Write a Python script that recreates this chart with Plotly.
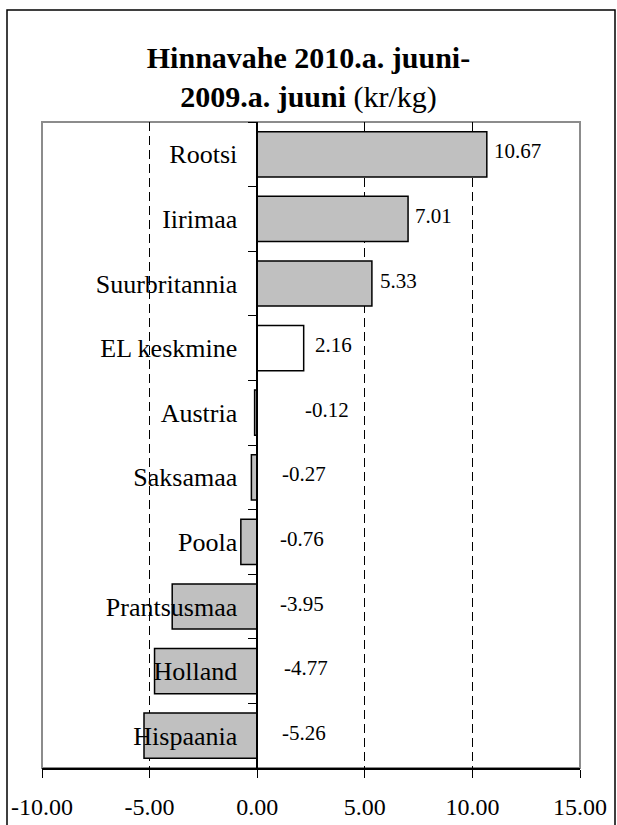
import plotly.graph_objects as go

# countries from top to bottom, price change (kr/kg)
countries = ["Rootsi", "Iirimaa", "Suurbritannia", "EL keskmine", "Austria",
             "Saksamaa", "Poola", "Prantsusmaa", "Holland", "Hispaania"]
values = [10.67, 7.01, 5.33, 2.16, -0.12, -0.27, -0.76, -3.95, -4.77, -5.26]
bar_colors = ["#c0c0c0", "#c0c0c0", "#c0c0c0", "#ffffff", "#c0c0c0",
              "#c0c0c0", "#c0c0c0", "#c0c0c0", "#c0c0c0", "#c0c0c0"]

x_ticks = [-10, -5, 0, 5, 10, 15]
x_tick_labels = ["-10.00", "-5.00", "0.00", "5.00", "10.00", "15.00"]
x_min, x_max = -10, 15

# pixel nudges for the value labels (Excel put them a bit irregularly)
label_shift = [5, 5, 6, 9, 46, 23, 21, 21, 25, 23]

FONT = "Liberation Serif"

fig = go.Figure()
fig.add_trace(go.Bar(
    x=values,
    y=countries,
    orientation="h",
    width=0.7,
    marker=dict(color=bar_colors, line=dict(color="black", width=1.5)),
    hoverinfo="x+y",
))

# value labels: right of the bar end for positives, right of zero for negatives
for c, v, s in zip(countries, values, label_shift):
    fig.add_annotation(
        x=v if v > 0 else 0, y=c, text=f"{v:.2f}",
        xanchor="left", yanchor="middle", xshift=s, yshift=3,
        showarrow=False, font=dict(family=FONT, size=21, color="black"),
    )

# gray plot border, over the edge gridlines
fig.add_shape(type="rect", xref="paper", yref="paper", x0=0, x1=1, y0=0, y1=1,
              line=dict(color="#8c8c8c", width=2), layer="between")
# black outer frame of the chart
fig.add_shape(type="rect", xref="paper", yref="paper",
              x0=-35 / 538, x1=573 / 538, y0=-62 / 646, y1=758 / 646,
              line=dict(color="black", width=1.5))

fig.update_xaxes(
    range=[x_min, x_max], automargin=False,
    tickmode="array", tickvals=x_ticks, ticktext=x_tick_labels,
    ticks="outside", ticklen=8, tickcolor="black", tickwidth=1,
    showline=True, linecolor="black", linewidth=1.5,
    showgrid=True, gridcolor="black", gridwidth=1, griddash="9px,5px",
    zeroline=False,
    tickfont=dict(family=FONT, size=24, color="black"),
    ticklabelstandoff=8,
)

fig.update_yaxes(
    type="category", autorange="reversed", automargin=False,
    anchor="free", position=(0 - x_min) / (x_max - x_min),
    showline=True, linecolor="black", linewidth=1.5,
    ticks="outside", ticklen=8, tickcolor="black", tickson="boundaries",
    showgrid=False, zeroline=False,
    tickfont=dict(family=FONT, size=26, color="black"),
    ticklabelstandoff=14,
)

fig.update_layout(
    width=617, height=825,
    margin=dict(l=42, r=37, t=122, b=57),
    title=dict(
        text="<b>Hinnavahe 2010.a. juuni-<br>2009.a. juuni</b> (kr/kg)",
        x=0.5, xref="container", xanchor="center",
        y=1 - 68 / 825, yref="container", yanchor="top",
        font=dict(family=FONT, size=30, color="black"),
        automargin=False,
    ),
    showlegend=False,
    paper_bgcolor="white",
    plot_bgcolor="white",
)

# drop the default page margin so the chart sits at the window's corner
fig.write_html("out.html", config={"displayModeBar": False},
               post_script="document.body.style.margin = '0';")
